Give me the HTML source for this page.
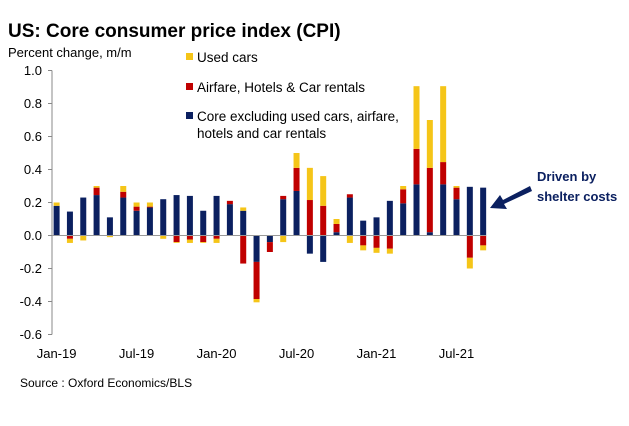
<!DOCTYPE html>
<html><head><meta charset="utf-8"><style>
body{margin:0;background:#fff;font-family:"Liberation Sans",Arial,sans-serif;}
svg text{font-family:"Liberation Sans",Arial,sans-serif;}
</style></head><body>
<svg id="chart" width="629" height="421">
<text x="8" y="37" font-size="19" font-weight="bold" fill="#000">US: Core consumer price index (CPI)</text>
<text x="8" y="57" font-size="13" fill="#000">Percent change, m/m</text>
<g>
<rect x="186" y="53" width="7" height="7" fill="#f5c518"/>
<text x="197" y="62" font-size="13.5">Used cars</text>
<rect x="186" y="83" width="7" height="7" fill="#c00000"/>
<text x="197" y="92" font-size="13.5">Airfare, Hotels &amp; Car rentals</text>
<rect x="186" y="112" width="7" height="7" fill="#0b2060"/>
<text x="197" y="121" font-size="13.5">Core excluding used cars, airfare,</text>
<text x="197" y="138" font-size="13.5">hotels and car rentals</text>
</g>
<g id="plot"></g>
<path d="M530,186 L503,200 L500,195 L490,208 L507,209 L504,204 L532,191 Z" fill="#0b2060"/>
<text x="537" y="181" font-size="13" font-weight="bold" fill="#0b2060">Driven by</text>
<text x="537" y="201" font-size="13" font-weight="bold" fill="#0b2060">shelter costs</text>
<text x="20" y="387" font-size="12">Source : Oxford Economics/BLS</text>
</svg>
<script>
const months = ["Jan-19","Feb-19","Mar-19","Apr-19","May-19","Jun-19","Jul-19","Aug-19","Sep-19","Oct-19","Nov-19","Dec-19","Jan-20","Feb-20","Mar-20","Apr-20","May-20","Jun-20","Jul-20","Aug-20","Sep-20","Oct-20","Nov-20","Dec-20","Jan-21","Feb-21","Mar-21","Apr-21","May-21","Jun-21","Jul-21","Aug-21","Sep-21"];
const coreVals = [0.18,0.145,0.23,0.245,0.11,0.23,0.15,0.17,0.22,0.245,0.24,0.15,0.24,0.19,0.15,-0.16,-0.04,0.22,0.27,-0.11,-0.16,0.02,0.23,0.09,0.11,0.21,0.195,0.31,0.02,0.31,0.22,0.295,0.29];
const airVals = [0,-0.02,0,0.045,0,0.035,0.025,0.005,0,-0.04,-0.025,-0.04,-0.02,0.02,-0.17,-0.225,-0.06,0.02,0.14,0.215,0.18,0.05,0.02,-0.06,-0.075,-0.08,0.085,0.215,0.39,0.135,0.07,-0.135,-0.06];
const usedVals = [0.02,-0.025,-0.03,0.01,-0.01,0.035,0.025,0.025,-0.02,-0.005,-0.02,-0.005,-0.025,0,0.02,-0.02,0,-0.04,0.09,0.195,0.18,0.03,-0.045,-0.03,-0.03,-0.03,0.02,0.38,0.29,0.46,0.01,-0.065,-0.03];
const yTicks = [-0.6,-0.4,-0.2,0.0,0.2,0.4,0.6,0.8,1.0];
const xLabelIdx = [0,6,12,18,24,30];

const NS="http://www.w3.org/2000/svg";
const g=document.getElementById('plot');
const y=v=>235.5-v*165;
const x=i=>56.6+i*13.33;
function el(t,a){const e=document.createElementNS(NS,t);for(const k in a)e.setAttribute(k,a[k]);g.appendChild(e);return e;}
// y axis
let ax=el('line',{x1:52,y1:y(1.0),x2:52,y2:y(-0.6),stroke:'#888','stroke-width':1});


yTicks.forEach(v=>{
  const t=el('line',{x1:48,x2:52,y1:y(v),y2:y(v),stroke:'#888'});
  
  
  const l=el('text',{x:42,y:y(v)+4.5,'font-size':13,'text-anchor':'end'});
  l.textContent=v.toFixed(1);
  
  
});
// bars
const series=[[coreVals,'#0b2060','bar-core'],[airVals,'#c00000','bar-airfare'],[usedVals,'#f5c518','bar-used-cars']];
months.forEach((m,i)=>{
  let pos=0,neg=0;
  series.forEach(([arr,c,n])=>{
    const v=arr[i]; if(!v)return;
    let a,b;
    if(v>0){a=pos;b=pos+v;pos=b;}else{a=neg;b=neg+v;neg=b;}
    const r=el('rect',{x:x(i)-3,width:6,y:Math.min(y(a),y(b)),height:Math.abs(y(a)-y(b)),fill:c});
    
    
  });
});
// zero line
let z=el('line',{x1:52,x2:486,y1:y(0),y2:y(0),stroke:'#999','stroke-width':1});


xLabelIdx.forEach(i=>{
  const l=el('text',{x:x(i),y:358,'font-size':13,'text-anchor':'middle'});
  l.textContent=months[i];
  
  
});
</script>
</body></html>
